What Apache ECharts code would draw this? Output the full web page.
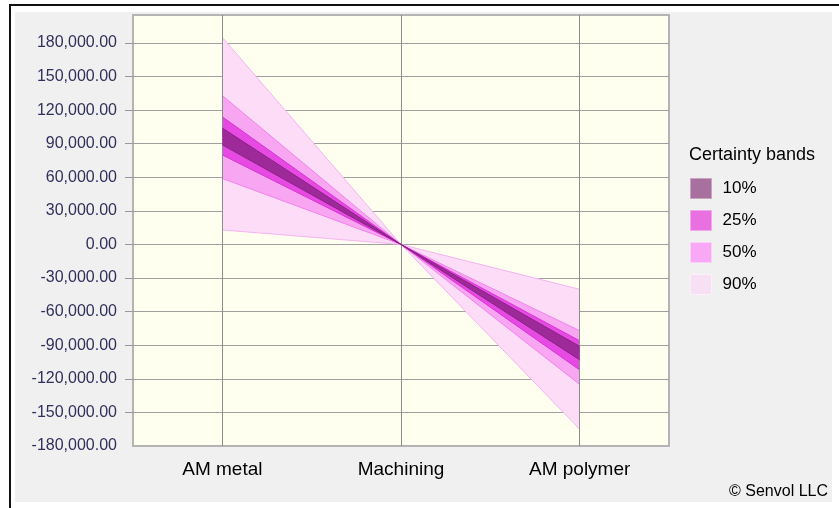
<!DOCTYPE html>
<html>
<head>
<meta charset="utf-8">
<script src="https://cdn.jsdelivr.net/npm/echarts@6/dist/echarts.min.js"></script>
<style>
  html, body { margin: 0; padding: 0; background: #fff; }
  #chart { width: 839px; height: 508px; }
</style>
</head>
<body>
<div id="chart"></div>
<script>
// data
const categories = ['AM metal', 'Machining', 'AM polymer']
const bandNames = ['10%', '25%', '50%', '90%']
const band10Low = [89000, 0, -103000]
const band10High = [104000, 0, -91000]
const band25Low = [80000, 0, -112000]
const band25High = [114000, 0, -86000]
const band50Low = [59000, 0, -125000]
const band50High = [133000, 0, -77000]
const band90Low = [13000, 0, -165000]
const band90High = [185000, 0, -40000]
const yTicks = [-180000, -150000, -120000, -90000, -60000, -30000, 0,
  30000, 60000, 90000, 120000, 150000, 180000]

const FONT = 'Arial, "Liberation Sans", sans-serif'
const chart = echarts.init(document.getElementById('chart'))

function bandSeries(name, low, high, fill, edge, z) {
  const common = {
    type: 'line', stack: name, stackStrategy: 'all', symbol: 'none',
    silent: true, animation: false, z: z,
    lineStyle: { color: edge, width: 1 }
  }
  return [
    Object.assign({ name: name + ' low', data: low }, common),
    Object.assign({
      name: name,
      data: high.map((h, i) => h - low[i]),
      areaStyle: { color: fill, opacity: 1 }
    }, common)
  ]
}

const series = [
  {
    name: 'grid', type: 'line', data: [], silent: true, z: 1,
    markLine: {
      silent: true, symbol: 'none', animation: false,
      label: { show: false },
      lineStyle: { color: '#8c8c8c', width: 1, type: 'solid' },
      data: categories.map(c => ({ xAxis: c }))
    }
  }
].concat(
  bandSeries('90%', band90Low, band90High, '#fcdcf7', '#f6b4f0', 2),
  bandSeries('50%', band50Low, band50High, '#f9a6f2', '#f184ea', 3),
  bandSeries('25%', band25Low, band25High, '#e64ae2', '#d834d4', 4),
  bandSeries('10%', band10Low, band10High, '#9e2a9a', '#8a2086', 5)
)

const legendFill = ['#a8709f', '#e870e0', '#f8a8f4', '#f8e0f4']
const legendEdge = ['#c8a4c2', '#f0a8ec', '#fcd0f8', '#fcf0fa']

chart.setOption({
  backgroundColor: '#fff',
  animation: false,
  textStyle: { fontFamily: FONT },
  graphic: [
    { type: 'rect', z: -10, shape: { x: 10, y: 5, width: 900, height: 600 },
      style: { fill: '#fff', stroke: '#111', lineWidth: 2 } },
    { type: 'rect', z: -9, shape: { x: 15, y: 12, width: 817, height: 490 },
      style: { fill: '#f0f0f0' } },
    { type: 'text', z: 10, x: 828, y: 492,
      style: { text: '© Senvol LLC', fill: '#000', font: '16px ' + FONT,
        textAlign: 'right', textVerticalAlign: 'middle' } }
  ],
  title: {
    text: 'Certainty bands', left: 689, top: 146, padding: 0,
    textStyle: { fontSize: 18, fontWeight: 'normal', color: '#000', fontFamily: FONT }
  },
  legend: {
    orient: 'vertical', left: 690, top: 178, padding: 0,
    itemWidth: 21, itemHeight: 20, itemGap: 11, icon: 'rect',
    selectedMode: false,
    textStyle: { fontSize: 17, color: '#000', fontFamily: FONT, padding: [0, 0, 0, 6] },
    data: bandNames.map((n, i) => ({
      name: n,
      itemStyle: { color: legendFill[i], borderColor: legendEdge[i], borderWidth: 1 }
    }))
  },
  grid: {
    left: 133, right: 170, top: 15, bottom: 62,
    show: true, backgroundColor: '#fffff0',
    borderColor: '#b4b4b4', borderWidth: 2
  },
  xAxis: {
    type: 'category', data: categories, boundaryGap: true,
    axisLine: { show: false }, axisTick: { show: false }, splitLine: { show: false },
    axisLabel: { fontSize: 19, color: '#000', margin: 14, fontFamily: FONT }
  },
  yAxis: {
    type: 'value', min: -180000, max: 205000, interval: 30000,
    axisLine: { show: false },
    axisTick: { show: true, length: 8, lineStyle: { color: '#999' },
      customValues: yTicks.slice(1) },
    splitLine: { lineStyle: { color: '#a0a0a0', width: 1 } },
    axisLabel: {
      fontSize: 16, color: '#30305a', margin: 16, fontFamily: FONT,
      customValues: yTicks,
      formatter: v => v.toLocaleString('en-US', { minimumFractionDigits: 2, maximumFractionDigits: 2 })
    }
  },
  series: series
})
</script>
</body>
</html>
